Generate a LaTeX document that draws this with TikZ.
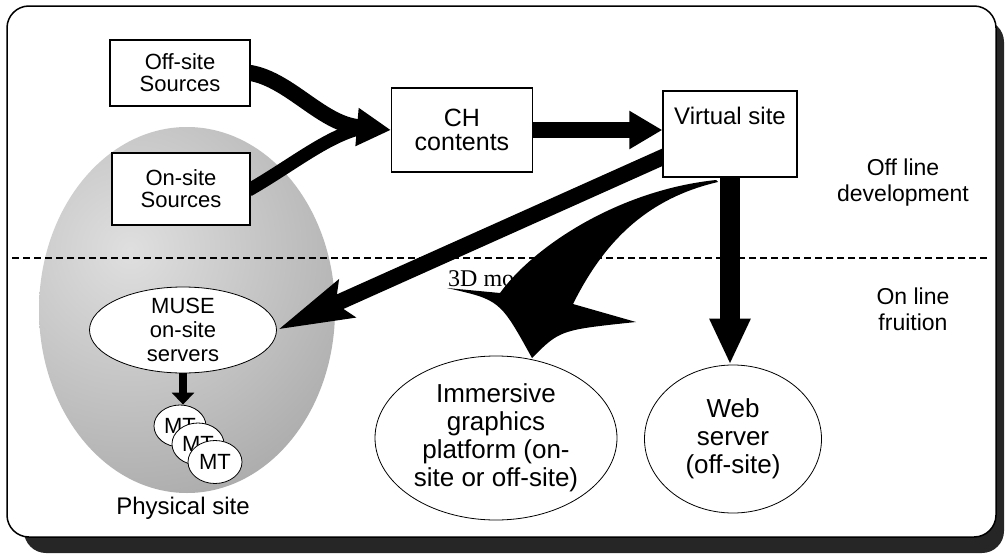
\documentclass[tikz,border=0pt]{standalone}
\usepackage{fontspec}
\setmainfont{Liberation Sans}
\newfontfamily\romfont{Liberation Serif}
\usetikzlibrary{arrows.meta,shapes.geometric,positioning,backgrounds,calc}
\newcommand\fs[2]{\fontsize{#1}{#2}\selectfont}
\tikzset{
  box/.style={draw,line width=1.2pt,fill=white,align=center,inner sep=0pt},
  oval/.style={ellipse,draw,line width=0.8pt,fill=white,align=center,inner sep=0pt},
  fatline/.style={line width=16pt},
}
\begin{document}
\begin{tikzpicture}[x=1pt,y=-1pt,line join=miter]
\useasboundingbox (0,0) rectangle (1005,554);
%% Nodes
  % Node: Off-site Sources
  \node (offsite) [box,minimum width=140pt,minimum height=66pt,font={\fs{22}{22}}] at (180,73) {Off-site\\Sources};
  % Node: On-site Sources
  \node (onsite) [box,minimum width=138pt,minimum height=72pt,font={\fs{22}{22}}] at (181,189) {On-site\\Sources};
  % Node: CH contents
  \node (chc) [box,minimum width=141pt,minimum height=84pt,font={\fs{25}{24}}] at (462,130) {CH\\contents};
  % Node: Virtual site
  \node (vsite) [box,minimum width=134pt,minimum height=86pt] at (730,134) {};
  \node [inner sep=0pt,font={\fs{24}{24}},below=17pt of vsite.north] {Virtual site};
  % Node: MUSE
  \node (muse) [oval,minimum width=187pt,minimum height=86pt,
    label={[font={\fs{22}{24}},align=center]center:MUSE\\on-site\\servers}] at (183,330) {};
  % Node: MT
  \node (mt1) [oval,minimum width=52pt,minimum height=42pt,font={\fs{22}{22}}] at (180,426) {MT};
  \node (mt2) [oval,minimum width=52pt,minimum height=42pt,font={\fs{22}{22}}] at (198,444) {MT};
  \node (mt3) [oval,minimum width=54pt,minimum height=43pt,font={\fs{22}{22}}] at (215,462) {MT};
  % Node: Immersive graphics platform
  \node (immer) [oval,minimum width=242pt,minimum height=164pt,font={\fs{26}{28}}] at (496,438)
    {Immersive\\graphics\\platform (on-\\site or off-site)};
  % Node: Web server
  \node (web) [oval,minimum width=177pt,minimum height=148pt,font={\fs{26}{28}}] at (733,439)
    {Web\\server\\(off-site)};
  % Texts
  \node (offline) [align=center,font={\fs{23}{26}}] at (903,183) {Off line\\development};
  \node (online) [align=center,font={\fs{23}{26}}] at (913,309) {On line\\fruition};
  \node (physical) [font={\fs{24}{24}}] at (183,508) {Physical site};
%%
\begin{pgfonlayer}{background}
  % Frame
  \fill[black!85,rounded corners=22pt] (24,20) rectangle (1004,553);
  \draw[line width=1.5pt,fill=white,rounded corners=22pt] (7,6) rectangle (996,537);
  \begin{scope}
    \clip (187,310) ellipse [x radius=148,y radius=183];
    \shade[inner color=gray!25,outer color=gray!65] (130,250) circle [radius=260];
  \end{scope}
  \draw[line width=1.2pt,dash pattern=on 7pt off 4pt] (12,258) -- (990,258);
  % Edge: On-site Sources -> CH contents
  \coordinate (merge) at (358,129);
  \draw[line width=13pt] (onsite.center) -- (onsite.east) .. controls (292,165) and (325,138) .. (merge);
  % Edge: Off-site Sources -> CH contents
  \draw[fatline,-{Triangle[length=34pt,width=36pt]}] (offsite.center) -- (offsite.east) .. controls (290,80) and (322,124) .. (chc.west);
  % Edge: CH contents -> Virtual site
  \draw[fatline,-{Triangle[length=33pt,width=36pt]}] (chc.east) -- (chc.east -| vsite.west);
  % Edge: Virtual site -> MUSE
  \draw[fatline,-{Stealth[length=74pt,width=38pt,inset=10pt]}] ($(vsite.199)!-0.08!(muse.east)$) -- (muse.east);
  % Edge: Virtual site -> Web server
  \draw[line width=20pt,-{Triangle[length=46pt,width=38pt]}] (vsite.center) -- (vsite.center |- web.north);
  % Edge: MUSE -> MT
  \draw[line width=8pt,-{Triangle[length=12pt,width=22pt]}] (muse.south) -- (muse.south |- mt1.north);
  % Edge: Virtual site -> Immersive graphics platform
  \node (tdlabel) [anchor=base west,inner sep=0pt,font={\romfont\fs{24}{24}}] at (448,286) {3D models};
  \coordinate (tdtail) at (716,180);
  \coordinate (tdtip) at (532,358);
  \fill (tdtail) .. controls (620,190) and (535,245) .. (500,293) -- (447,288)
    .. controls (500,300) .. (tdtip) .. controls (560,330) .. (636,322) -- (573,304)
    .. controls (600,250) and (640,200) .. (718,182) -- cycle;
\end{pgfonlayer}
\end{tikzpicture}
\end{document}
